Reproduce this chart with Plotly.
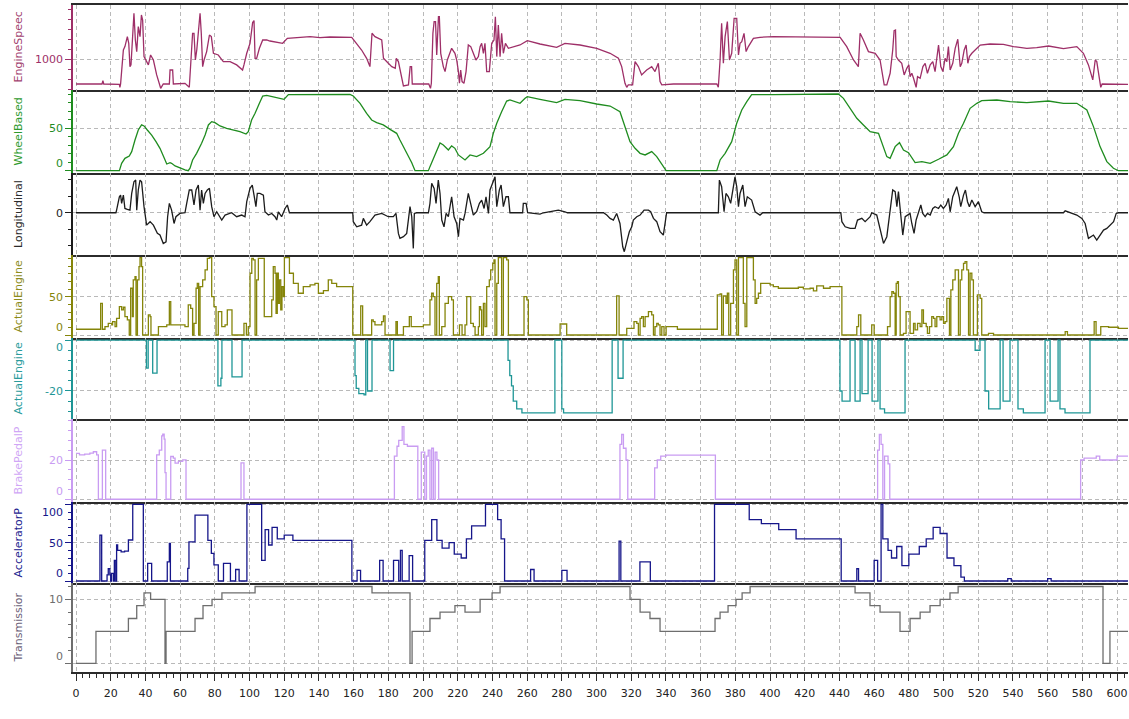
import plotly.graph_objects as go
from plotly.subplots import make_subplots

# ---------------------------------------------------------------- signals (time s, value)
engine_speed = [(0,753),(15,753),(15.5,787),(16,753),(25,750),(25.3,720),(25.7,753),(27.3,1093),(28.2,1127),(29.6,1227),(30.4,1160),(31.1,927),(31.7,944),(32.7,1227),(33.4,1460),(34.2,1193),(35,1077),(35.9,1327),(36.9,1227),(37.7,1443),(38.4,1393),(39.2,1027),(40.3,993),(41.7,944),(43,1043),(44.6,993),(46.5,844),(48.8,710),(50.3,753),(53.8,753),(54.2,893),(55.7,893),(56.1,753),(60,753),(62.8,760),(65.3,720),(66.1,993),(67.2,1260),(68,1260),(68.8,993),(69.6,1093),(70.5,1293),(71.5,1460),(72.2,1260),(73,927),(73.8,993),(75.3,1077),(76.9,1243),(78,1227),(79.2,1060),(82,1043),(84.9,977),(88.8,977),(92.6,944),(96,893),(96.8,944),(98.4,1060),(100.3,1160),(101.8,1367),(102.6,1387),(103.2,1010),(104.1,1010),(105.7,1110),(107.6,1193),(109.9,1193),(111.8,1183),(116.6,1170),(119.1,1160),(121.8,1210),(131,1217),(134.9,1227),(140.6,1217),(146.4,1223),(158.9,1220),(161.8,1160),(164.6,1093),(167.5,1010),(169.4,927),(170.6,1260),(172.3,1227),(176.2,1193),(177.2,1010),(180,960),(182,927),(184,910),(184.6,1010),(185.8,977),(187.7,794),(188.7,734),(191.6,744),(192.6,927),(193.4,927),(193.8,753),(203.3,753),(204.3,710),(204.8,760),(205.7,1260),(206.4,1377),(207.2,1377),(207.9,1043),(208.9,1426),(209.4,1426),(210.2,1060),(211.7,927),(212.7,877),(214,993),(216.5,1110),(218.4,1060),(219.4,993),(220.4,877),(221,760),(221.7,893),(222.5,777),(223.6,760),(224.8,877),(226.1,1143),(227.5,1127),(229,1060),(230.5,993),(231.9,1027),(232.9,1127),(233.8,1160),(234.8,1060),(235.7,1160),(236.7,877),(238.2,877),(239.6,1160),(240.9,1193),(241.7,1426),(242.5,1027),(243.4,1343),(244.4,1027),(245.3,1260),(246.3,1060),(247.5,1160),(249.2,1110),(255.9,1143),(260.1,1187),(267.4,1153),(277,1120),(281.8,1160),(290.5,1143),(300.1,1110),(307.8,1060),(312.6,1010),(314.5,927),(316.4,760),(317.4,720),(318.3,744),(320.8,744),(322.2,977),(324.1,927),(326,844),(328.9,893),(331.8,927),(333.7,877),(335.6,960),(336.6,777),(337.6,744),(344.3,753),(359.7,750),(369.3,753),(370.2,720),(371.2,993),(372.1,1360),(373.1,960),(374.1,1227),(375.4,1377),(376.6,993),(377.9,1060),(379.3,1410),(380.8,1410),(381.8,1043),(382.7,1160),(383.7,1177),(385,1260),(386.2,1077),(387.5,1127),(390.4,1210),(394.2,1220),(401.9,1227),(421.1,1227),(428.8,1220),(440.4,1220),(444.2,1127),(448.1,993),(450.9,927),(451.9,1260),(453.8,1193),(456.7,1077),(460.6,1060),(463.4,993),(465.8,744),(467.3,744),(469.2,860),(470.7,1093),(471.5,1287),(472.3,1293),(472.7,1027),(474,993),(475.9,960),(477.3,844),(478.8,910),(480,944),(480.7,827),(481.7,860),(482.7,810),(484.2,720),(485,827),(486.5,810),(488.1,927),(489.4,960),(490.7,860),(492.3,944),(493.8,977),(495.1,877),(497.1,1143),(498.4,927),(499.6,877),(500.9,1010),(501.9,977),(502.8,1127),(503.8,893),(505.3,960),(506.7,1110),(508.2,1200),(509.6,927),(510.5,960),(511.9,1093),(513,1143),(514,960),(514.9,1027),(516.3,1060),(518.2,1093),(521.1,1143),(526.8,1153),(534.5,1150),(540.3,1127),(548,1110),(553.7,1117),(560.5,1133),(569.1,1107),(576.8,1127),(580.6,1060),(583.5,944),(586,794),(587.4,993),(588.3,977),(590.6,720),(591.4,753),(596,753),(607,750)]

wheel_speed = [(0,0),(25,0),(26.3,8.7),(28.2,14.6),(30.7,17.4),(32.1,22.5),(34,36.2),(35.9,48),(37.8,54),(39.2,52.8),(41.1,48),(43.6,42.1),(46.1,34.3),(48.4,26.4),(50.9,14.6),(52.3,7.9),(54.2,9.5),(55.1,8.7),(57.1,5.6),(59.9,2.9),(62.8,0.9),(64.7,0),(65.7,2.9),(67.2,12.7),(69.5,20.5),(72.4,32.3),(74.4,42.1),(76.3,54),(78.2,57.9),(80.1,56.7),(83,52.8),(86.8,50),(90.7,48),(94.5,46),(98,43.3),(99.3,46),(101.2,59.8),(103.2,67.7),(105.7,79.5),(107.6,88.1),(109.9,88.9),(113.7,87.3),(118.5,85.4),(119.9,84.2),(122.4,89.7),(131,89.7),(138.7,90.5),(142.6,89.7),(150.2,89.7),(157.9,90),(159.8,88.1),(163.7,79.5),(167.5,67.7),(170.4,59.8),(173.3,56.7),(177.1,54),(181,48.8),(184.8,44.1),(186.7,36.2),(188.7,28.4),(191.5,16.6),(193.5,9.5),(195.4,0),(203.1,0),(204,4.8),(205.9,14.6),(207.9,24.4),(209.8,32.7),(211.7,30.3),(212.7,28.4),(214.6,24.4),(216.5,29.2),(218.4,26.4),(220.4,18.6),(224.2,12.7),(227.1,18.6),(230.9,16.6),(234.8,20.5),(238.6,28.4),(240.5,44.1),(242.5,55.9),(245.3,69.6),(248.2,82.2),(250.1,83.4),(255.9,79.5),(258.8,85.4),(260.1,87.3),(267.4,84.2),(277,80.3),(281.8,84.2),(290.5,82.6),(300.1,78.7),(307.8,76.3),(313.5,69.6),(316.4,52),(319.3,34.3),(322.2,26.4),(325.1,20.5),(328,18.6),(331.8,22.5),(334.7,16.6),(337.6,6.8),(340.1,0),(369.3,0),(371.2,12.7),(374.1,20.5),(377.9,34.3),(380.8,55.9),(383.7,71.6),(386.6,81.4),(389.4,89.7),(401.9,89.7),(423.1,90.5),(439.4,90.5),(442.3,85.4),(446.2,73.6),(450,61.8),(453.8,54),(457.7,46.1),(462.5,44.1),(465.4,28.4),(467.3,16.6),(469.2,14.6),(472.1,28.4),(474.6,33.1),(476.9,24.4),(479.8,21.3),(483.6,9.5),(487.5,10.7),(492.3,8.7),(497.1,13.5),(501.9,18.6),(505.7,28.4),(508.6,44.1),(511.5,55.9),(515.3,73.6),(519.2,79.5),(522,82.6),(530.7,83.4),(538.4,81.4),(548,80.3),(560.5,82.2),(569.1,79.5),(576.8,79.5),(582.6,71.6),(586.4,52),(590.2,28.4),(594.1,10.7),(597.9,2.9),(600.8,0),(607,0)]

longitudinal_acc = [(0,0),(23,0),(23.4,0.16),(25,0.97),(25.7,1.07),(26.3,0.57),(27.3,1.07),(28.2,0.26),(29.6,0.2),(31.1,0.16),(32.1,1.17),(33.4,1.88),(34.4,1.98),(35,0.16),(35.9,1.38),(36.9,1.98),(37.8,1.88),(39.2,0.37),(40.7,-0.75),(42.7,-0.54),(44.6,-0.75),(46.9,-1.25),(48.4,-1.35),(50.3,-1.86),(51.9,-1.76),(52.8,-0.24),(53.8,0.57),(55.1,0.16),(56.5,-0.65),(57.6,-0.24),(59.9,-0.04),(62.8,0),(63.8,0.57),(65.3,1.38),(66.7,1.38),(68,0.47),(69.2,1.38),(70.5,1.68),(71.5,0.16),(72.4,1.38),(73.4,0.57),(74.4,1.17),(75.7,1.38),(76.9,1.48),(78.2,0.37),(79.5,-0.24),(81.1,0.06),(84,-0.44),(85.9,-0.14),(89.7,0),(92.6,-0.24),(95.5,-0.14),(97.4,-0.24),(98.4,0.67),(100.3,1.48),(101.6,1.68),(102.6,1.07),(103.7,0.37),(104.5,1.17),(106,1.17),(108,1.07),(108.9,0.06),(110.9,-0.14),(112.8,-0.04),(114.7,-0.24),(115.7,-0.44),(116.6,0.06),(118.5,-0.24),(120.5,0.26),(121.8,0.47),(123,0),(159.5,0),(159.8,-0.54),(161.8,-0.85),(164.6,-0.75),(165.6,-0.34),(167.5,-0.75),(169.4,-0.54),(172.3,-0.14),(176.2,-0.04),(180,-0.24),(182.9,-0.24),(184.4,-0.04),(185.8,-1.25),(186.7,-1.55),(188.7,-1.45),(190.6,-1.25),(192.5,0.37),(193.5,-0.24),(194.4,-2.16),(195,-0.04),(196.3,0),(203.1,0),(204,0.57),(205,1.78),(206.4,1.48),(207.5,0.57),(208.8,1.98),(209.8,1.17),(210.8,-0.44),(212.1,-0.85),(213.3,-0.04),(214.6,-0.24),(216.5,0.97),(217.9,-0.24),(219.4,-0.65),(220.4,-1.45),(221.3,-0.34),(223.3,-0.44),(224.2,-0.04),(226.1,1.17),(227.5,0.47),(229,-0.14),(230.9,0.06),(232.5,0.57),(233.8,0.77),(235.2,0.26),(236.3,0.97),(237.7,-0.04),(238.6,1.38),(240.2,1.78),(241.5,2.18),(242.5,0.37),(244,1.38),(245,1.68),(246.3,0.37),(247.8,0.97),(249.2,0.97),(250.1,0),(257.4,0),(257.8,0.57),(259.4,0.57),(260.3,0),(267.4,-0.08),(269.4,0),(278,0.16),(281.8,0.06),(283.2,0),(304,0),(305.9,-0.14),(307.8,-0.34),(309.7,-0.44),(311.6,-0.04),(313.5,-0.65),(315.1,-2.06),(316,-2.36),(317.4,-1.76),(318.9,-1.15),(320.3,-0.85),(321.2,-0.44),(323.2,-0.24),(325.1,-0.14),(327.4,0.16),(329.9,0.16),(331.2,0.06),(332.8,-0.34),(334.7,-0.54),(336.6,-1.15),(338.5,-1.35),(339.5,-0.65),(340.4,0),(370.2,0),(370.8,1.98),(372.1,1.58),(373.5,0.06),(374.6,1.17),(376,0.97),(377.3,0.57),(378.5,1.38),(379.8,2.18),(380.8,1.58),(381.8,0.37),(382.7,1.17),(384.3,1.68),(385.6,0.37),(386.9,0.97),(389.4,0.77),(391.4,0.06),(394.2,-0.14),(395.8,0),(440.8,0),(441.4,-0.54),(443.3,-0.85),(446.2,-0.95),(449,-0.95),(450.4,-0.44),(452.9,-0.34),(454.8,-0.54),(457.7,-0.24),(458.6,0),(461.5,-0.14),(463.4,-1.05),(465.4,-1.86),(467.3,-1.45),(469.2,0.16),(470.7,1.38),(472.1,1.28),(473.1,0.37),(474,1.28),(475.4,-0.44),(476.5,-1.35),(477.9,-0.24),(479.2,-0.14),(480.7,-0.04),(481.7,-0.65),(483,-1.25),(484.2,-0.44),(485.5,0.06),(486.9,0.47),(488,-0.04),(489.4,-0.24),(490.7,-0.04),(492.3,-0.14),(493.8,0.26),(495.1,0.37),(497.1,0.26),(498.4,0.47),(499.9,0.26),(501.5,0.47),(502.8,0.87),(503.8,0.06),(505.3,0.97),(506.7,1.38),(507.6,1.58),(509,0.97),(509.9,0.37),(511.5,1.07),(512.6,1.38),(513.8,0.67),(514.9,0.37),(516.3,0.77),(518.2,0.37),(520.1,0.67),(522,0.06),(523.4,0),(569.1,0),(570.1,0.12),(573,0),(576.8,-0.14),(579.7,-0.34),(581.6,-0.65),(583.5,-1.55),(586.4,-1.35),(588.3,-1.66),(590.2,-1.35),(592.2,-1.05),(594.1,-0.95),(596,-0.75),(598,-0.54),(599.5,-0.04),(600.8,0),(607,0)]

engine_torque = [(0,7.5),(14.2,41.4),(15.2,7.5),(16.7,11),(18.6,15.3),(20.6,13.1),(21.1,17.5),(22.5,11),(23.4,21.8),(25,37.1),(26.3,32.7),(27.3,36.2),(28.2,24),(29.6,19.7),(30.7,0),(31.5,61),(32.5,24),(33,71.9),(34,76.2),(34.6,0),(35.4,71.9),(36.3,89.3),(36.9,101),(37.8,89.3),(38.4,0),(41.7,26.2),(42.7,24),(43.2,0),(47.5,11),(52.3,13.1),(53.8,43.6),(54.6,13.1),(62.8,11),(64.7,39.2),(66.1,34.8),(67.2,0),(68,15.3),(69.2,61),(69.9,67.5),(70.7,0),(71.5,63.2),(73,71.9),(74.4,84.9),(75.7,100),(76.9,101),(78.2,50.1),(79.5,37.1),(80.7,0),(82,30.5),(84,11),(85.9,13.1),(87.2,32.7),(89.9,0),(96.8,15.3),(98.2,0),(99.3,11),(100.3,80.6),(101.3,100),(102.2,98),(103.2,0),(104.1,71.9),(105.1,100),(108.5,24),(112.8,45.8),(113.7,89.3),(114.7,80.6),(115.3,28.4),(116,80.6),(116.6,41.4),(117.2,71.9),(118,32.7),(118.7,63.2),(119.5,50.1),(120.1,101),(123,80.6),(125.3,67.5),(128.1,54.5),(131,63.2),(134.9,65.3),(137.7,67.5),(139.7,54.5),(142.6,58),(145.4,71.9),(147.4,67.5),(150.2,63.2),(159.5,0),(164.1,38),(165.2,0),(170.4,19.7),(171.3,17.5),(172.3,13.1),(176.2,17.5),(177.2,24.9),(178.1,0),(184.4,17.5),(185.2,0),(188.7,11),(192.1,24),(193.2,11),(200.2,13.1),(204,45.8),(205,54.5),(205.9,50.1),(206.9,0),(207.9,67.5),(208.8,76.2),(209.4,0),(210.8,11),(212.7,41.4),(214.6,50.1),(216.5,45.8),(217.5,0),(221,13.1),(222.5,0),(224.2,13.1),(225.2,50.1),(227.5,15.3),(229,11),(230,0),(231.9,11),(232.5,37.1),(233.2,32.7),(233.8,0),(234.8,41.4),(235.7,11),(236.7,63.2),(238.2,71.9),(239,84.9),(240.2,93.6),(240.9,98),(241.5,0),(242.5,67.5),(243.4,101),(245.3,0),(246.3,101),(248.2,98),(249.2,0),(258.2,50.1),(259.8,45.8),(260.7,0),(279,14.4),(282.8,0),(311.6,51),(313,0),(317.4,8.7),(321.6,17.5),(323.2,15.3),(324.1,0),(325.1,21.8),(326,24),(327,11),(328,24),(329.9,30.5),(331.8,26.2),(332.8,0),(333.7,11),(334.7,15.3),(335.6,13.1),(336.6,0),(337.6,11),(338.9,0),(340.1,11),(346.6,7.5),(369.6,52.3),(371.2,53.6),(372.1,0),(373.1,51),(374.6,41.4),(375.4,54.5),(376.2,0),(377.3,41.4),(378.9,84.9),(379.8,98),(380.8,0),(381.8,101),(384.6,41.4),(385.6,11),(386.6,101),(390.4,71.9),(391.4,41.4),(392.3,47.9),(393.3,54.5),(394.6,67.5),(400,65.3),(401.9,63.2),(404.8,61),(416.3,62.3),(419.2,60.1),(423.1,61),(425,57.5),(426.9,64),(430.8,61),(434.6,63.2),(441.4,0),(450,11),(451,26.2),(452.3,0),(458.6,13.1),(460,0),(467.7,11),(469.2,50.1),(470.2,56.6),(471.1,54.5),(472.1,0),(472.7,67.5),(473.4,69.7),(474,50.1),(475,0),(476.9,2.2),(478.4,30.5),(480.7,2.2),(482.7,15.3),(483.6,6.6),(485,15.3),(486.5,11),(487.5,32.7),(488.4,15.3),(490,11),(490.7,2.2),(491.9,11),(493.2,24),(494.2,21.8),(495.1,11),(496.1,24),(498,19.7),(499,24),(500,15.3),(500.9,17.5),(501.9,47.9),(503.4,0),(504.2,58.8),(505.3,71.9),(506.7,84.9),(508.6,0),(509.6,71.9),(510.5,84.9),(511.5,93.6),(512.4,95.8),(513.4,84.9),(514.4,0),(515.3,80.6),(516.3,71.9),(517.2,0),(519.5,52.3),(521.1,47.9),(522,0),(525.9,2.2),(528.8,0),(570.1,4.4),(571.4,0),(586.8,17.5),(587.9,0),(590.6,11),(595.1,10.1),(600.8,8.7),(607,8.7)]

retarder_torque = [(0,0),(40.6,-11),(41.6,0),(44.2,-13),(46.7,0),(81.8,-18),(83.5,-15),(84.1,0),(89.9,-14.5),(95.7,0),(160.8,-14),(161.5,-19),(163,-21),(166,-21.5),(167,0),(168,-20),(170.6,0),(181,-12),(183,0),(249,-8),(250,-14),(251,-18),(252,-24),(254,-27),(257,-28.6),(276,0),(280,-27),(281,-28.6),(309,0),(312.4,-15),(315.3,0),(440.3,-20),(441.5,-24),(446.1,0),(449,-24),(451.9,0),(453,-21),(456.5,0),(458.8,-24),(462.2,0),(463.4,-27),(466,-28.6),(477.8,0),(518.2,-4),(521,0),(523.9,-20),(526,-27),(532.6,0),(534.3,-24),(538.3,0),(542.9,-27),(546,-28.6),(558.5,0),(561.4,-24),(566,0),(567.1,-27),(570,-28.6),(584.4,0),(607,0)]

brake_pedal = [(0,23.4),(2,22.6),(5,23),(8,23.5),(10,24.2),(11.9,22.6),(12.9,0),(15.2,25),(17.1,0),(46.5,22.6),(48,25),(49.4,32.3),(50,33.2),(50.8,30.6),(51.3,13.6),(51.9,0),(54.6,21.8),(56.1,21),(57.1,18.4),(59,19.3),(61.5,20.1),(63.4,0),(95.1,18.5),(96.8,0),(183.5,22),(185,27),(186,30),(188,37),(189,28),(191,27),(196,27),(197,0),(199,24),(201,0),(202,22),(203,25),(204,0),(205,26),(206,0),(207,24),(208,20),(209,0),(313.5,28),(314.5,33),(315.5,26),(317,20),(318,0),(333.5,16),(335,20),(337,22),(340,22.5),(368.5,0),(462,25),(463,33),(464,28),(465,0),(466,22),(468,18),(469,0),(579,20),(581,21),(588,22),(590,20),(595,20),(600,22),(607,22)]

accelerator_pedal = [(0,0),(13.8,60),(14.8,0),(17.9,8),(18.6,16),(19.5,8),(20,0),(20.4,10),(21.5,0),(22.1,27),(22.9,0),(23.4,47),(24,40),(26,38),(28,39),(30.2,53.5),(32.7,100),(38.8,0),(41.3,23),(43.6,0),(52.6,25),(53.8,49),(54.4,0),(64.4,16.5),(65.1,51),(68.6,86),(76,53),(78,36),(79.5,21),(82,0),(85,23),(89,0),(92,15),(94,0),(98.5,100),(107,27),(109,67),(111,47),(113,70),(116,55),(120,60),(125,53),(159,0),(162,14),(164,0),(175,27),(177,0),(183,27),(186,0),(187,40),(188,0),(192,33),(194,0),(201,53),(205,80),(208,53),(211,43),(215,50),(218,35),(222,30),(225,55),(228,72),(236,100),(243,80),(245,55),(247,0),(262,15),(264,0),(280,14),(283,0),(313,52),(314,0),(325,25),(331,0),(368,100),(378,100),(388,80),(395,75),(405,67),(415,55),(441,0),(450,16),(451,0),(460,27),(462,0),(464,100),(465,55),(468,40),(470,30),(473,45),(476,20),(480,35),(486,45),(490,55),(494,70),(498,62),(502,30),(506,20),(510,5),(512,0),(537,3),(539,0),(560,3),(562,0),(607,0)]

gear = [(0,0),(11.5,5),(30.2,7),(35,9),(39.2,11),(43,10),(51.3,0),(51.9,5),(68.6,7),(73.2,9),(78.4,10),(84.1,11),(94.5,11),(103.2,12),(170.6,11),(186.7,11),(192.5,0),(193.7,5),(204,7),(209.8,8),(218.4,9),(224.2,8),(232.9,10),(239.8,11),(244.4,12),(319.3,10),(325.1,8),(330.8,7),(336.6,5),(368.3,7),(371.2,8),(375.8,9),(380.4,10),(383.9,11),(388.5,12),(449,11),(457.6,9),(463.4,8),(474.9,5),(480.7,7),(486.5,8),(492.2,9),(498,10),(503.7,11),(508.4,12),(587.3,12),(591.9,0),(595.9,5),(607,5)]

# ---------------------------------------------------------------- panel styling
FONT = "DejaVu Sans"
GRID = "#b9b9b9"
FRAME = "#2b2b2b"
W, H = 1129, 719
M_L, M_R, M_T, M_B = 73, 1, 5, 47
PLOT_H = H - M_T - M_B
PLOT_W = W - M_L - M_R
BOTTOM = H - M_B


def frac(py):
    return (BOTTOM - py) / PLOT_H


panels = [
    dict(title="EngineSpeec", data=engine_speed, color="#9e2f68", top=5, bot=90,
         rng=[693, 1543], ticks=[1000], minor=100, shape="linear", nudge={}),
    dict(title="WheelBased", data=wheel_speed, color="#1f8c1f", top=90, bot=173,
         rng=[-2.7, 95.2], ticks=[0, 50], minor=10, shape="linear", nudge={0: 7.7}),
    dict(title="Longitudinal", data=longitudinal_acc, color="#1c1c1c", top=173, bot=255,
         rng=[-2.56, 2.41], ticks=[0], minor=1, shape="linear", nudge={}),
    dict(title="ActualEngine", data=engine_torque, color="#85850a", top=255, bot=338,
         rng=[-3.9, 104.4], ticks=[0, 50], minor=10, shape="hv", nudge={0: 7.7}),
    dict(title="ActualEngine", data=retarder_torque, color="#1e9696", top=338, bot=419,
         rng=[-31.0, 0.8], ticks=[-20, 0], minor=4, shape="hv", nudge={0: -7}),
    dict(title="BrakePedalP", data=brake_pedal, color="#c99cf2", top=419, bot=502,
         rng=[-1.4, 40.9], ticks=[0, 20], minor=5, shape="hv", nudge={0: 7.6}),
    dict(title="AcceleratorP", data=accelerator_pedal, color="#16168a", top=502, bot=583,
         rng=[-2.6, 103.1], ticks=[0, 50, 100], minor=10, shape="hv", nudge={0: 8, 100: -8.6}),
    dict(title="Transmissior", data=gear, color="#6e6e6e", top=583, bot=672,
         rng=[-1.36, 12.55], ticks=[0, 10], minor=2, shape="hv", nudge={0: 6.6}),
]
TITLE_COLORS = ["#a2426f", "#2e9a2e", "#2b2b2b", "#8c8c1c", "#2a9c9c", "#cfa6f5", "#23238f", "#6c5f78"]

fig = make_subplots(rows=len(panels), cols=1, shared_xaxes=True, vertical_spacing=0)

annotations = []
for i, p in enumerate(panels):
    row = i + 1
    t = [d[0] for d in p["data"]]
    v = [d[1] for d in p["data"]]
    fig.add_trace(
        go.Scatter(x=t, y=v, mode="lines", hoverinfo="skip", showlegend=False,
                   line=dict(color=p["color"], width=1.3, shape=p["shape"])),
        row=row, col=1)

    yname = "yaxis" if row == 1 else f"yaxis{row}"
    xname = "xaxis" if row == 1 else f"xaxis{row}"
    ref = "y" if row == 1 else f"y{row}"
    ticktext = ["" if tv in p["nudge"] else str(tv) for tv in p["ticks"]]
    fig.layout[yname].update(
        domain=[frac(p["bot"]), frac(p["top"])], range=p["rng"],
        showline=True, linecolor=p["color"], linewidth=1.5,
        ticks="outside", ticklen=6, tickwidth=1, tickcolor=p["color"],
        tickvals=p["ticks"], ticktext=ticktext,
        tickfont=dict(family=FONT, size=11, color=p["color"]),
        showgrid=True, gridcolor=GRID, gridwidth=1, griddash="4px,3px",
        zeroline=False,
        minor=dict(dtick=p["minor"], tick0=0, ticks="outside", ticklen=3,
                   tickcolor=p["color"], showgrid=False),
    )
    last = row == len(panels)
    fig.layout[xname].update(
        range=[-1.73, 606.3], showline=True, mirror=(row == 1),
        linecolor=FRAME, linewidth=2,
        showgrid=True, gridcolor=GRID, gridwidth=1, griddash="4px,3px",
        tick0=0, dtick=20, zeroline=False,
        ticks="outside" if last else "", ticklen=7, tickcolor=FRAME,
        showticklabels=last,
        tickfont=dict(family=FONT, size=11, color="#222222"),
    )
    if last:
        fig.layout[xname].update(ticklabelstandoff=3,
                                 minor=dict(dtick=4, tick0=0, ticks="outside", ticklen=4,
                                            tickcolor=FRAME, showgrid=False))

    # tick labels pushed inward near the panel edges
    for tv, shift in p["nudge"].items():
        annotations.append(dict(
            xref="paper", x=0, xanchor="right", xshift=-8,
            yref=ref, y=tv, yanchor="middle", yshift=shift,
            text=str(tv), showarrow=False,
            font=dict(family=FONT, size=11, color=p["color"])))

    # rotated channel name
    annotations.append(dict(
        xref="paper", x=(18 - M_L) / PLOT_W, xanchor="center",
        yref="paper", y=frac((p["top"] + p["bot"]) / 2), yanchor="middle",
        text=p["title"], textangle=-90, showarrow=False,
        font=dict(family=FONT, size=11, color=TITLE_COLORS[i])))

fig.update_layout(
    width=W, height=H,
    margin=dict(l=M_L, r=M_R, t=M_T, b=M_B),
    paper_bgcolor="white", plot_bgcolor="white",
    annotations=annotations,
    font=dict(family=FONT, size=11),
)

fig.write_html("out.html")
